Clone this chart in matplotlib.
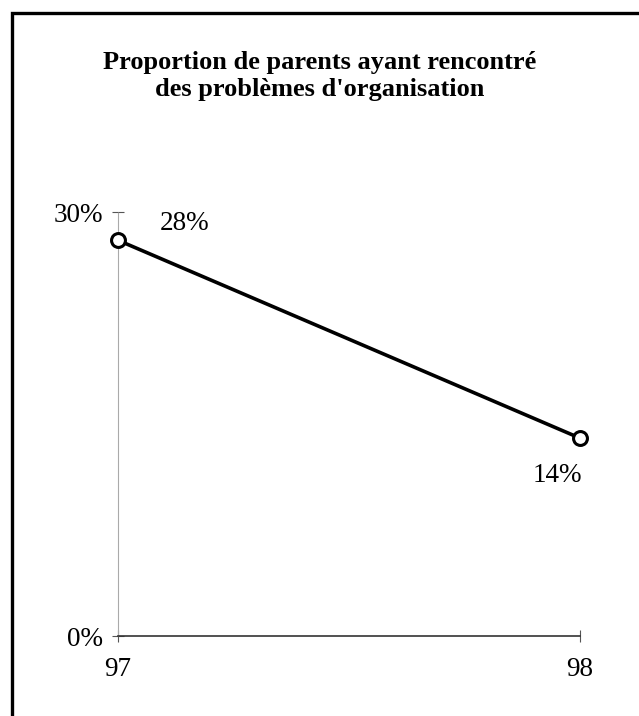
import matplotlib
matplotlib.use("Agg")
import matplotlib.pyplot as plt
from matplotlib.patches import Rectangle

years = [97, 98]
values = [28, 14]
year_labels = ["97", "98"]
y_ticks = [0, 30]
y_tick_labels = ["0%", "30%"]
point_labels = ["28%", "14%"]
title = "Proportion de parents ayant rencontré\ndes problèmes d'organisation"

plt.rcParams['font.family'] = ['Liberation Serif', 'DejaVu Serif']

fig = plt.figure(figsize=(6.39, 7.16), dpi=100)
fig.patch.set_facecolor('white')

# outer frame (cut at right and bottom)
fig.patches.append(Rectangle((12/639, -0.05), 1.0, 1 - 13/716 + 0.05,
                             transform=fig.transFigure, fill=False,
                             edgecolor='black', linewidth=2.4))

ax = fig.add_axes([118/639, 1 - 636/716, (580 - 118)/639, (636 - 212)/716])
ax.set_xlim(97, 98)
ax.set_ylim(0, 30)

ax.plot(years, values, color='black', linewidth=2.6, marker='o', markersize=10,
        markerfacecolor='white', markeredgecolor='black', markeredgewidth=2.2,
        clip_on=False, zorder=5)

offsets = [(48, 12), (-16, -27)]
for x, y, lab, off in zip(years, values, point_labels, offsets):
    ax.annotate(lab, (x, y), xytext=off, textcoords='offset points',
                ha='center', va='center', fontsize=19.5)

for s in ['top', 'right']:
    ax.spines[s].set_visible(False)
ax.spines['left'].set_color('#aaaaaa')
ax.spines['left'].set_linewidth(0.8)
ax.spines['left'].set_linestyle((0, (1, 1)))
ax.spines['bottom'].set_color('#333333')
ax.spines['bottom'].set_linewidth(1.2)

ax.set_yticks(y_ticks)
ax.set_yticklabels(y_tick_labels, fontsize=19.5)
ax.set_xticks(years)
ax.set_xticklabels(year_labels, fontsize=19.5)
ax.tick_params(axis='y', direction='inout', length=8, width=0.8, color='#555555', pad=7)
ax.tick_params(axis='x', direction='inout', length=8, width=0.8, color='#555555', pad=11)

fig.text(0.5, 1 - 76/716, title, ha='center', va='center', fontsize=19,
         fontweight='bold', linespacing=1.17)

fig.savefig("out.png", dpi=100, facecolor='white')
